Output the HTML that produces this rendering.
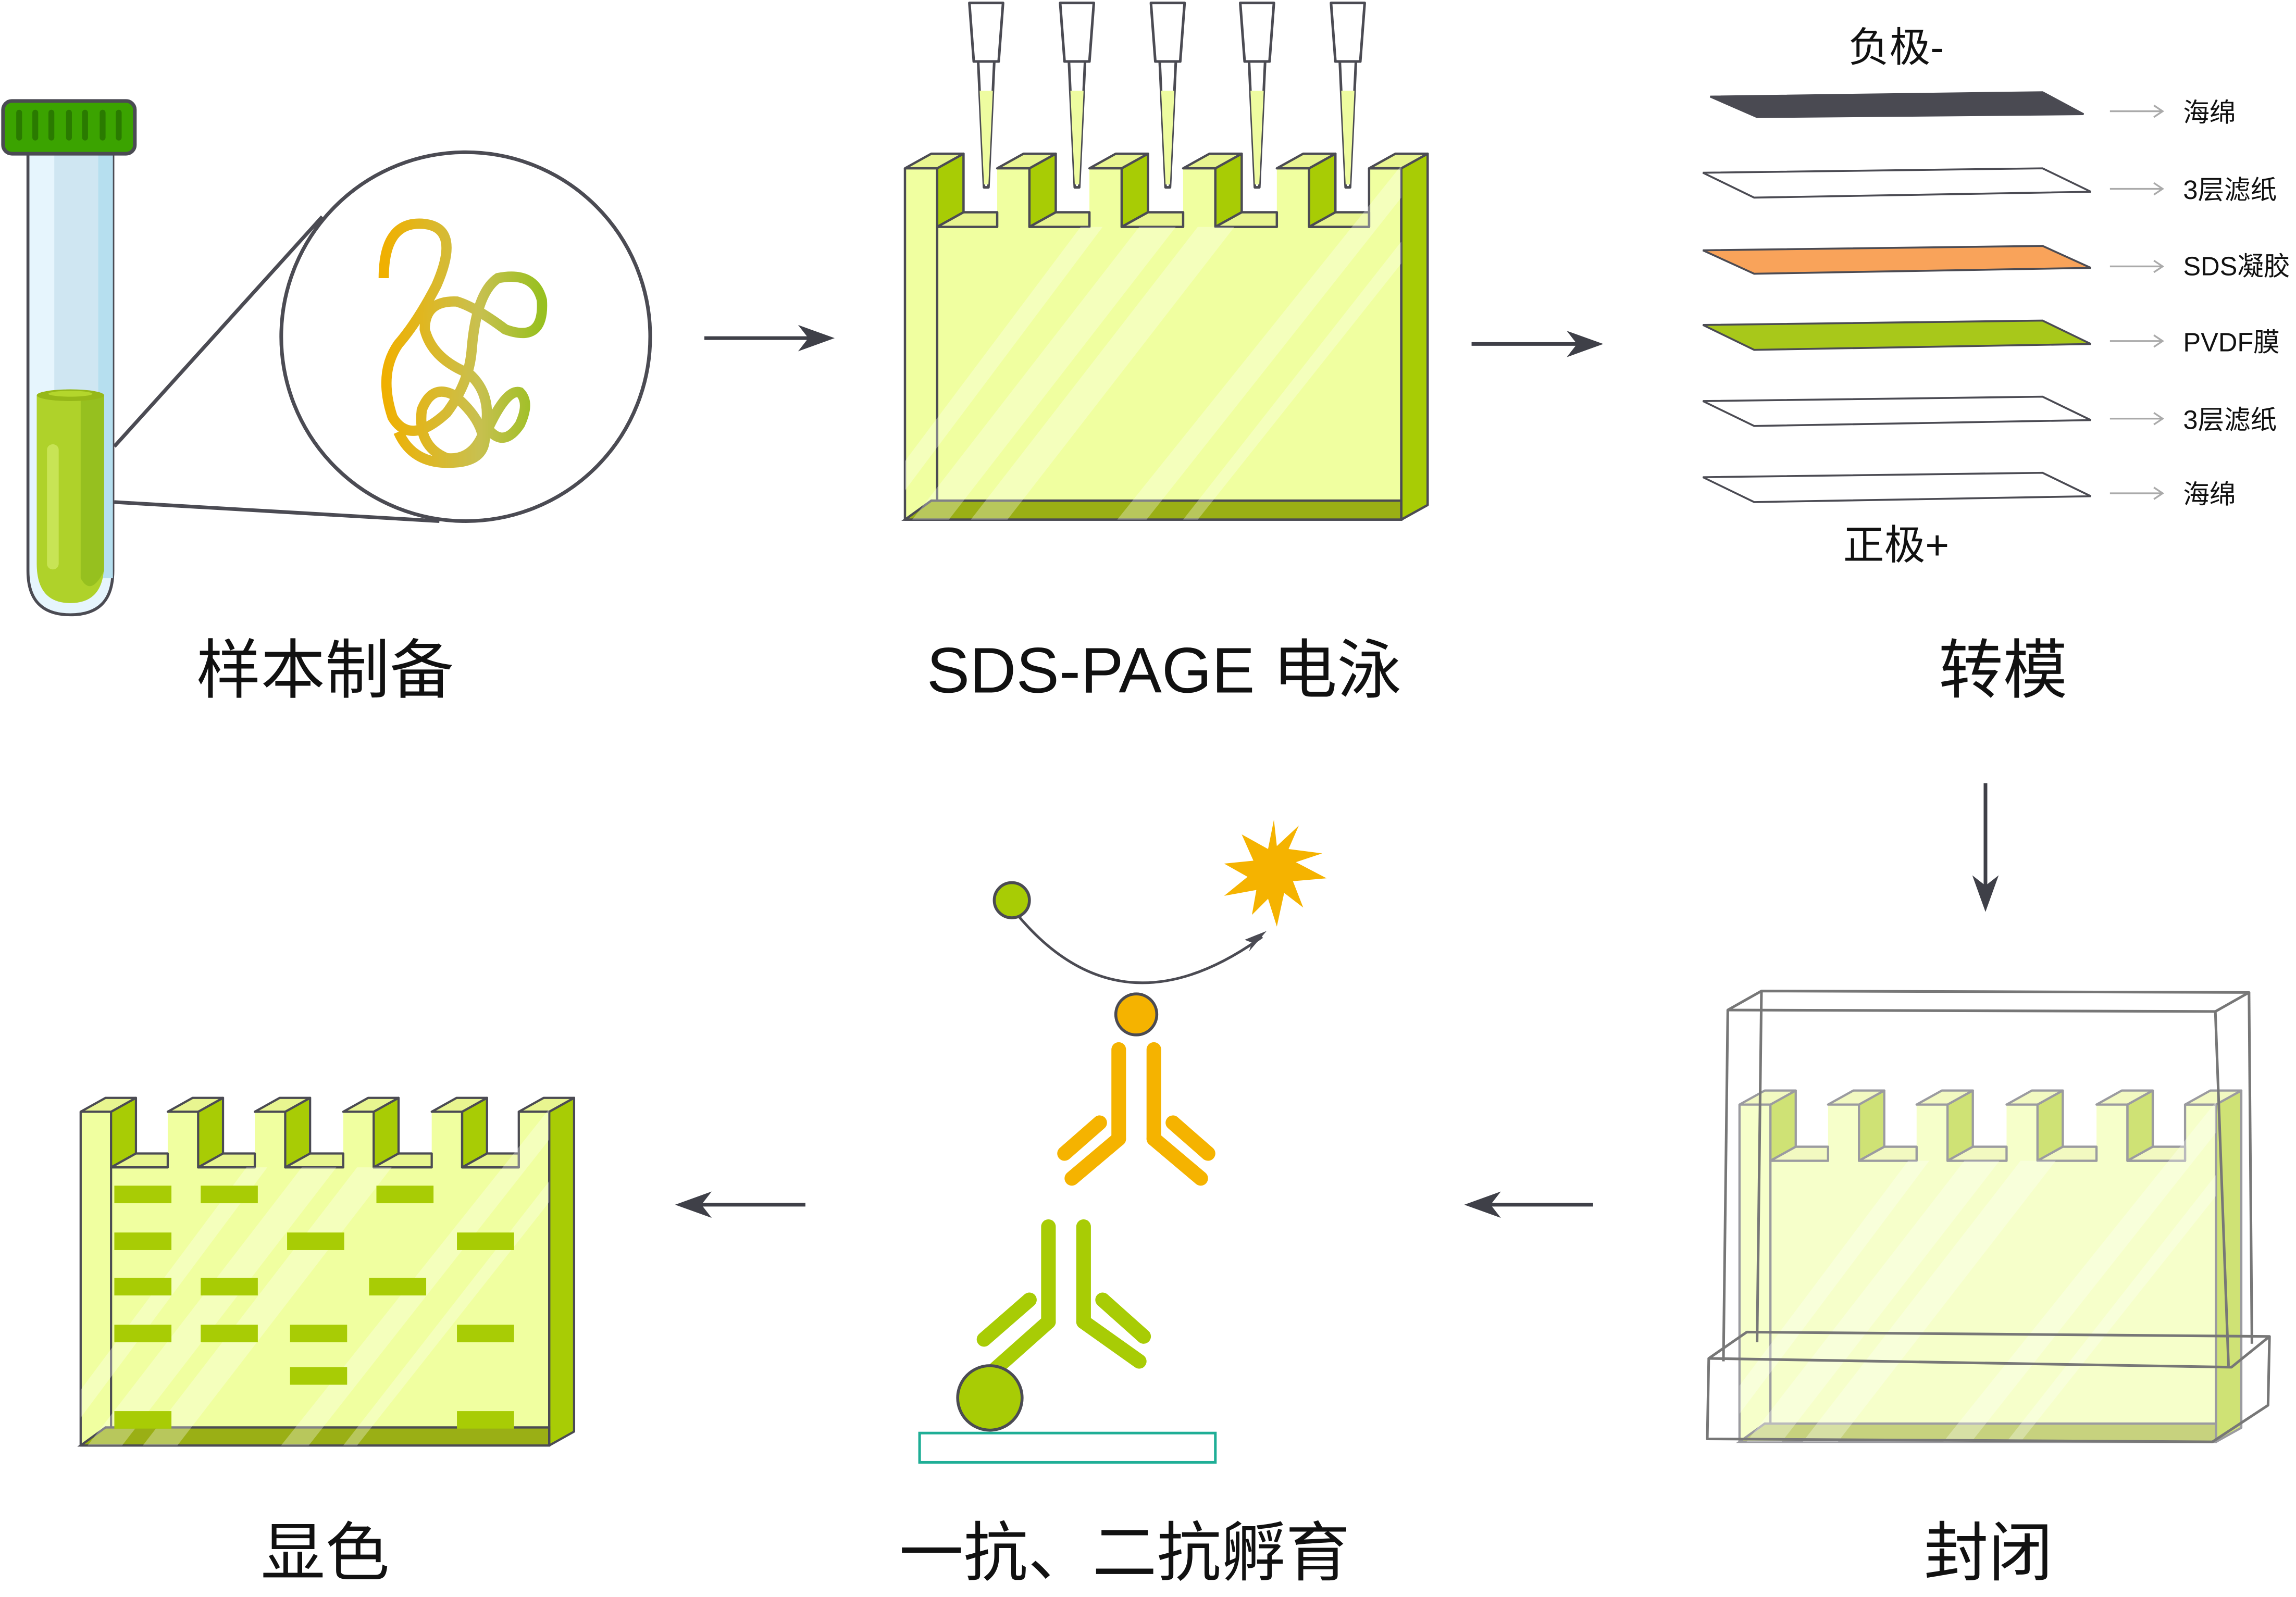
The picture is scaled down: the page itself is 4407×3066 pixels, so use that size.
<!DOCTYPE html>
<html><head><meta charset="utf-8"><style>
html,body{margin:0;padding:0;background:#fff;}
svg{display:block;}
text{font-family:"Liberation Sans","Noto Sans CJK SC",sans-serif;fill:#111;}
</style></head><body>
<svg width="4407" height="3066" viewBox="0 0 1568 1091" xmlns="http://www.w3.org/2000/svg">
<defs>
<linearGradient id="sq" x1="0" x2="1" y1="0" y2="0"><stop offset="0" stop-color="#f0b000"/><stop offset="0.6" stop-color="#c8c050"/><stop offset="1" stop-color="#98c020"/></linearGradient>
<g id="gel">
  <path d="M0,10 H22 V50 H63 V10 H85 V50 H126 V10 H148 V50 H190 V10 H212 V50 H254 V10 H276 V50 H317 V10 H339 V250 H0 Z" fill="#f0ffa0"/>
  <g fill="#a8cc05" stroke="#4b4b53" stroke-width="1.6" stroke-linejoin="round">
    <polygon points="22,10 40,0 40,40 22,50"/><polygon points="85,10 103,0 103,40 85,50"/>
    <polygon points="148,10 166,0 166,40 148,50"/><polygon points="212,10 230,0 230,40 212,50"/>
    <polygon points="276,10 294,0 294,40 276,50"/><polygon points="339,10 357,0 357,240 339,250"/>
  </g>
  <g fill="#e8f590" stroke="#4b4b53" stroke-width="1.6" stroke-linejoin="round">
    <polygon points="0,10 18,0 40,0 22,10"/><polygon points="63,10 81,0 103,0 85,10"/>
    <polygon points="126,10 144,0 166,0 148,10"/><polygon points="190,10 208,0 230,0 212,10"/>
    <polygon points="254,10 272,0 294,0 276,10"/><polygon points="317,10 335,0 357,0 339,10"/>
    <polygon points="22,50 40,40 63,40 63,50"/><polygon points="85,50 103,40 126,40 126,50"/>
    <polygon points="148,50 166,40 190,40 190,50"/><polygon points="212,50 230,40 254,40 254,50"/>
    <polygon points="276,50 294,40 317,40 317,50"/>
  </g>
  <polygon points="0,250 18,237 339,237 339,250" fill="#9aaf15" stroke="#4b4b53" stroke-width="1.6"/>
  <path d="M0,10 V250 H339 V10 H317 V50 H276 V10 M22,50 V237" fill="none" stroke="#4b4b53" stroke-width="1.6" stroke-linejoin="round"/>
  <g fill="#ffffff" opacity="0.3">
    <polygon points="0,210 120,50 135,50 0,230"/><polygon points="5,250 160,50 185,50 30,250"/>
    <polygon points="45,250 200,50 225,50 70,250"/><polygon points="145,250 339,8 339,30 165,250"/>
    <polygon points="190,250 339,60 339,75 200,250"/>
  </g>
</g>
</defs>

<!-- Test tube -->
<path d="M19,105 V390 Q19,420 48,420 Q77,420 77,390 V105 Z" fill="#e6f5fd" stroke="#4b4b53" stroke-width="2"/>
<rect x="37" y="105" width="30" height="290" fill="#cfe6f2"/>
<rect x="67" y="105" width="10" height="290" fill="#b6dfef"/>
<path d="M25,270 V385 Q25,412 48,412 Q71,412 71,385 V270 Z" fill="#afd22a"/>
<path d="M55,270 V395 Q62,408 71,390 V270 Z" fill="#96c01f"/>
<ellipse cx="48" cy="270" rx="23" ry="4" fill="#96b818"/>
<ellipse cx="48" cy="269" rx="15" ry="2" fill="#b4d62c"/>
<rect x="32" y="330" width="8" height="90" rx="4" fill="#c8e455" transform="translate(0,-10) scale(1,0.95)"/>
<rect x="2" y="69" width="90" height="36" rx="6" fill="#3ba300" stroke="#4b4b53" stroke-width="2.5"/>
<g stroke="#2a7a00" stroke-width="4" stroke-linecap="round">
<line x1="13" y1="77" x2="13" y2="94"/><line x1="24" y1="77" x2="24" y2="94"/><line x1="35" y1="77" x2="35" y2="94"/><line x1="47" y1="77" x2="47" y2="94"/><line x1="58" y1="77" x2="58" y2="94"/><line x1="70" y1="77" x2="70" y2="94"/><line x1="81" y1="77" x2="81" y2="94"/></g>
<!-- magnifier -->
<line x1="78" y1="305" x2="220" y2="148" stroke="#4b4b53" stroke-width="2.5"/>
<line x1="78" y1="343" x2="300" y2="356" stroke="#4b4b53" stroke-width="2.5"/>
<circle cx="318" cy="230" r="126" fill="#fff" stroke="#4b4b53" stroke-width="2.5"/>
<path d="M262,190 Q262,150 290,153 Q315,156 298,195 Q285,220 272,235 Q258,255 268,285 Q280,305 305,282 Q320,262 322,240 Q325,200 340,190 Q365,185 370,205 Q372,235 345,225 Q325,210 312,206 Q290,205 290,225 Q295,245 320,255 Q335,268 332,290 Q325,315 305,313 Q285,305 288,280 Q295,262 310,270 Q328,285 330,300 Q345,265 355,268 Q362,275 355,290 Q345,305 335,295 Q330,290 331,300 Q330,315 310,316 Q282,318 272,295" fill="none" stroke="url(#sq)" stroke-width="7" stroke-linecap="butt"/>

<!-- arrows -->
<g stroke="#3f4048" stroke-width="2.5" fill="#3f4048">
<line x1="481" y1="231" x2="555" y2="231"/><polygon points="570,231 545,222 552,231 545,240" stroke="none"/>
<line x1="1005" y1="235" x2="1080" y2="235"/><polygon points="1095,235 1070,226 1077,235 1070,244" stroke="none"/>
<line x1="1356" y1="535" x2="1356" y2="608"/><polygon points="1356,623 1347,598 1356,605 1365,598" stroke="none"/>
<line x1="1088" y1="823" x2="1015" y2="823"/><polygon points="1000,823 1025,814 1018,823 1025,832" stroke="none"/>
<line x1="550" y1="823" x2="476" y2="823"/><polygon points="461,823 486,814 479,823 486,832" stroke="none"/>
</g>

<!-- SDS gel -->
<g transform="translate(618,105)"><use href="#gel"/></g>
<g stroke="#4b4b53" stroke-width="1.8" fill="#fff" stroke-linejoin="round">
<g id="pip"><path d="M662,2 H685 L682,42 H665 Z"/><path d="M668,42 H679 L675,128 H672 Z"/><path d="M669,62 H678 L675,126 H672 Z" fill="#eefca0" stroke="none"/></g>
<use href="#pip" x="62"/><use href="#pip" x="124"/><use href="#pip" x="185"/><use href="#pip" x="247"/>
</g>

<!-- transfer layers -->
<g stroke="#4b4b53" stroke-width="1.3">
<polygon points="1168,66 1395,63 1423,78 1200,80" fill="#4a4a52"/>
<polygon points="1163,118 1395,115 1428,131 1198,135" fill="#fff"/>
<polygon points="1163,171 1395,168 1428,183 1198,187" fill="#f9a35a"/>
<polygon points="1163,222 1395,219 1428,235 1198,239" fill="#a8c81a"/>
<polygon points="1163,274 1395,271 1428,287 1198,291" fill="#fff"/>
<polygon points="1163,326 1395,323 1428,339 1198,343" fill="#fff"/>
</g>
<g stroke="#aaa" stroke-width="1.2" fill="none">
<path d="M1441,76 H1477 M1471,72 L1477,76 L1471,80"/>
<path d="M1441,129 H1477 M1471,125 L1477,129 L1471,133"/>
<path d="M1441,182 H1477 M1471,178 L1477,182 L1471,186"/>
<path d="M1441,233 H1477 M1471,229 L1477,233 L1471,237"/>
<path d="M1441,286 H1477 M1471,282 L1477,286 L1471,290"/>
<path d="M1441,337 H1477 M1471,333 L1477,337 L1471,341"/>
</g>
<g font-size="18">
<text x="1491" y="83">海绵</text><text x="1491" y="136">3层滤纸</text><text x="1491" y="188">SDS凝胶</text>
<text x="1491" y="240">PVDF膜</text><text x="1491" y="293">3层滤纸</text><text x="1491" y="344">海绵</text>
</g>
<text x="1295" y="42" font-size="28" text-anchor="middle">负极-</text>
<text x="1295" y="382" font-size="28" text-anchor="middle">正极+</text>

<!-- blocking -->
<g transform="translate(1188,745) scale(0.96,0.96)" opacity="0.55"><use href="#gel"/></g>
<g fill="none" stroke="#777" stroke-width="1.8" stroke-linejoin="round">
<polyline points="1180,690 1177,930"/>
<polygon points="1180,690 1203,677 1536,678 1513,691"/>
<line x1="1203" y1="677" x2="1200" y2="917"/>
<line x1="1536" y1="678" x2="1538" y2="918"/>
<line x1="1513" y1="691" x2="1522" y2="933"/>
<polygon points="1167,928 1193,910 1550,913 1524,934"/>
<polyline points="1167,928 1166,983 1511,985 1549,960 1550,913"/>
</g>

<!-- antibodies -->
<path d="M694,624 Q765,710 862,640" fill="none" stroke="#4b4b53" stroke-width="1.8"/>
<polygon points="865,636 850,642 855,644 853,650" fill="#4b4b53"/>
<circle cx="691" cy="615" r="12" fill="#a8cc05" stroke="#4b4b53" stroke-width="2"/>
<polygon points="870,560 872,578 887,564 880,580 903,583 885,589 906,600 883,602 890,620 877,610 872,633 866,614 855,625 858,608 836,612 852,599 836,590 856,588 848,570 866,580" fill="#f5b300"/>
<circle cx="776" cy="693" r="14" fill="#f5b300" stroke="#4b4b53" stroke-width="2"/>
<g stroke="#f5b300" stroke-width="10" stroke-linecap="round">
<line x1="764" y1="717" x2="764" y2="778"/><line x1="788" y1="717" x2="788" y2="778"/>
<line x1="764" y1="778" x2="732" y2="805"/><line x1="751" y1="767" x2="727" y2="788"/>
<line x1="788" y1="778" x2="820" y2="805"/><line x1="801" y1="767" x2="825" y2="788"/>
</g>
<g stroke="#a8cc05" stroke-width="10" stroke-linecap="round">
<line x1="716" y1="838" x2="716" y2="903"/><line x1="740" y1="838" x2="740" y2="903"/>
<line x1="716" y1="903" x2="680" y2="935"/><line x1="703" y1="888" x2="672" y2="915"/>
<line x1="740" y1="903" x2="778" y2="930"/><line x1="753" y1="888" x2="781" y2="913"/>
</g>
<circle cx="676" cy="955" r="22" fill="#a8cc05" stroke="#4b4b53" stroke-width="2"/>
<rect x="628" y="979" width="202" height="20" fill="none" stroke="#1fae96" stroke-width="1.8"/>

<!-- developed gel -->
<g transform="translate(55,750) scale(0.944,0.95)"><use href="#gel"/></g>
<g fill="#a8cc05">
<rect x="78" y="810" width="39" height="12"/><rect x="137" y="810" width="39" height="12"/><rect x="257" y="810" width="39" height="12"/>
<rect x="78" y="842" width="39" height="12"/><rect x="196" y="842" width="39" height="12"/><rect x="312" y="842" width="39" height="12"/>
<rect x="78" y="873" width="39" height="12"/><rect x="137" y="873" width="39" height="12"/><rect x="252" y="873" width="39" height="12"/>
<rect x="78" y="905" width="39" height="12"/><rect x="137" y="905" width="39" height="12"/><rect x="198" y="905" width="39" height="12"/><rect x="312" y="905" width="39" height="12"/>
<rect x="198" y="934" width="39" height="12"/>
<rect x="78" y="964" width="39" height="12"/><rect x="312" y="964" width="39" height="12"/>
</g>

<!-- labels -->
<g font-size="44" text-anchor="middle">
<text x="222" y="473">样本制备</text>
<text x="795" y="473">SDS-PAGE 电泳</text>
<text x="1368" y="473">转模</text>
<text x="222" y="1076">显色</text>
<text x="768" y="1076">一抗、二抗孵育</text>
<text x="1358" y="1076">封闭</text>
</g>
</svg>
</body></html>
